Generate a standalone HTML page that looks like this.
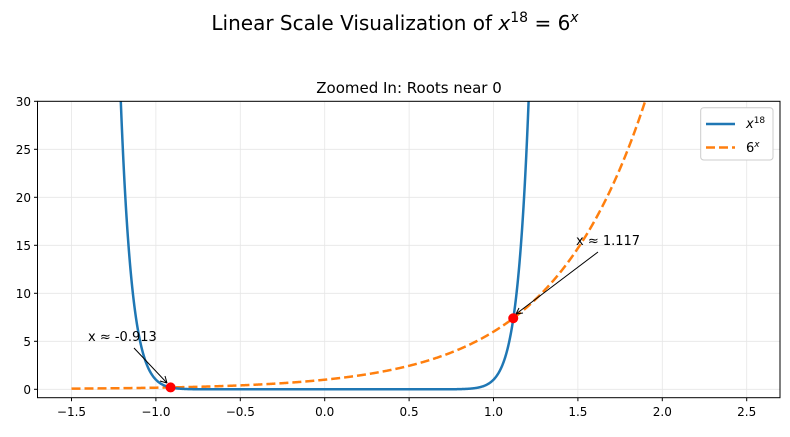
<!DOCTYPE html>
<html><head><meta charset="utf-8"><style>
body{margin:0;background:#fff;}
svg{font-family:"DejaVu Sans","Liberation Sans",sans-serif;}
</style></head><body>
<svg id="s" width="790" height="432" xmlns="http://www.w3.org/2000/svg">
<text x="395" y="30" font-size="20" text-anchor="middle">Linear Scale Visualization of <tspan font-style="italic">x</tspan><tspan font-size="14" dy="-8">18</tspan><tspan dy="8"> = 6</tspan><tspan font-size="14" dy="-8" font-style="italic">x</tspan></text>
<text x="409" y="93" font-size="15" text-anchor="middle">Zoomed In: Roots near 0</text>
<defs><clipPath id="c"><rect x="37.5" y="101.3" width="742.5" height="296.4"/></clipPath></defs>
<g id="grid" stroke="#e6e6e6" stroke-width="0.8"></g>
<g id="ticks" font-size="12" fill="#000"></g>
<g clip-path="url(#c)">
<path id="p2" fill="none" stroke="#ff7f0e" stroke-width="2.5" stroke-dasharray="9,4"/>
<path id="p1" fill="none" stroke="#1f77b4" stroke-width="2.5"/>
</g>
<circle id="r1" r="5" fill="red"/><circle id="r2" r="5" fill="red"/>
<rect x="37.5" y="101.3" width="742.5" height="296.4" fill="none" stroke="#000" stroke-width="1"/>
<text x="88" y="341" font-size="13">x ≈ -0.913</text>
<line x1="134" y1="348" x2="167" y2="383" stroke="#000" stroke-width="1"/>
<path d="M167 383 l-2 -7 M167 383 l-7 -2" stroke="#000" fill="none"/>
<text x="576" y="245" font-size="13">x ≈ 1.117</text>
<line x1="598" y1="252" x2="516" y2="314" stroke="#000" stroke-width="1"/>
<path d="M516 314 l7 -1 M516 314 l3 -6" stroke="#000" fill="none"/>
<rect x="700.7" y="107.7" width="72.3" height="52.3" rx="3" fill="#fff" stroke="#ccc"/>
<line x1="706" y1="124" x2="735" y2="124" stroke="#1f77b4" stroke-width="2.5"/>
<line x1="706" y1="147.5" x2="735" y2="147.5" stroke="#ff7f0e" stroke-width="2.5" stroke-dasharray="9,4"/>
<text x="746" y="128" font-size="13"><tspan font-style="italic">x</tspan><tspan font-size="9" dy="-5">18</tspan></text>
<text x="746" y="152" font-size="13">6<tspan font-size="9" dy="-5" font-style="italic">x</tspan></text>
</svg>
<script>
var X=function(v){return 324.7+v*168.8},Y=function(v){return 389.3-v*9.6};
var g=document.getElementById('grid'),t=document.getElementById('ticks'),ns="http://www.w3.org/2000/svg";
function el(p,n,a,txt){var e=document.createElementNS(ns,n);for(var k in a)e.setAttribute(k,a[k]);if(txt)e.textContent=txt;p.appendChild(e);}
[-1.5,-1,-0.5,0,0.5,1,1.5,2,2.5].forEach(function(v){var x=X(v);el(g,'line',{x1:x,x2:x,y1:101.3,y2:397.7});el(t,'line',{x1:x,x2:x,y1:397.7,y2:401.2,stroke:'#000'});el(t,'text',{x:x,y:416,'text-anchor':'middle'},(v<0?'\u2212':'')+Math.abs(v).toFixed(1));});
[0,5,10,15,20,25,30].forEach(function(v){var y=Y(v);el(g,'line',{x1:37.5,x2:780,y1:y,y2:y});el(t,'line',{x1:34,x2:37.5,y1:y,y2:y,stroke:'#000'});el(t,'text',{x:31,y:y+4.5,'text-anchor':'end'},String(v));});
var a='',b='';for(var i=0;i<=2000;i++){var x=-1.5+4*i/2000;var y1=Math.min(Math.pow(x,18),40),y2=Math.min(Math.pow(6,x),40);a+=(i?'L':'M')+X(x).toFixed(2)+' '+Y(y1).toFixed(2);b+=(i?'L':'M')+X(x).toFixed(2)+' '+Y(y2).toFixed(2);}
document.getElementById('p1').setAttribute('d',a);document.getElementById('p2').setAttribute('d',b);
var r1=document.getElementById('r1'),r2=document.getElementById('r2');
r1.setAttribute('cx',X(-0.913));r1.setAttribute('cy',Y(Math.pow(6,-0.913)));
r2.setAttribute('cx',X(1.117));r2.setAttribute('cy',Y(Math.pow(6,1.117)));
</script>
</body></html>
